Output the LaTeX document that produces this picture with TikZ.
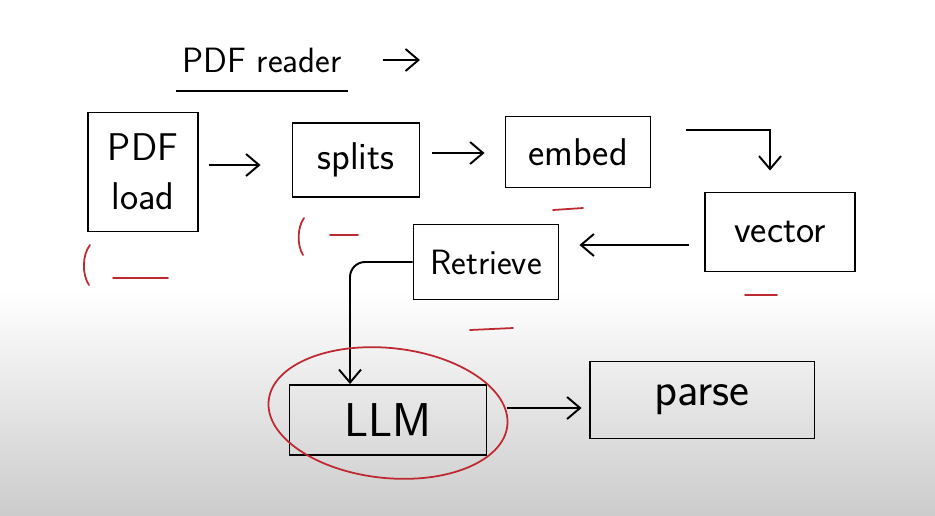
\documentclass[tikz,border=0pt]{standalone}
\usepackage{tikz}
\usetikzlibrary{arrows.meta,positioning}
\definecolor{inkred}{RGB}{190,40,48}

\begin{document}
\begin{tikzpicture}[x=0.02cm, y=-0.02cm, >={Straight Barb[length=2.6mm,width=4.4mm]}]
    \tikzset{block/.style= {draw, rectangle, align=center, line width=1.1pt, inner sep=0.2cm, font=\sffamily\fontsize{22}{28}\selectfont},
    bigblock/.style={block, font=\sffamily\fontsize{27}{30}\selectfont},
    flow/.style={draw, ->, line width=1.1pt},
    redtick/.style={draw=inkred, line width=1pt, line cap=round},
    }
    % background of the board
    \useasboundingbox (0,0) rectangle (935,515);
    \fill[white] (0,0) rectangle (935,290);
    \shade[top color=white, bottom color=gray!40] (0,290) rectangle (935,515);

    \node [font=\sffamily\fontsize{20}{24}\selectfont] (title) at (262,60) {PDF reader};
    \coordinate (titleend) at (420,60);
    \node [block, minimum width=2.2cm, minimum height=2.38cm] (load) at (143,172) {PDF\\load};
    \node [block, minimum width=2.54cm, minimum height=1.48cm] (splits) at (356,160) {splits};
    \node [block, minimum width=2.9cm, minimum height=1.42cm] (embed) at (578,152) {embed};
    \node [block, minimum width=3cm, minimum height=1.58cm] (vector) at (780,232) {vector};
    \node [block, font=\sffamily\fontsize{20}{24}\selectfont, minimum width=2.9cm, minimum height=1.5cm] (retrieve) at (486,262) {Retrieve};
    \node [bigblock, minimum width=3.94cm, minimum height=1.4cm] (llm) at (388,420) {LLM};
    \node [bigblock, minimum width=4.5cm, minimum height=1.54cm] (parse) at (702,400) {parse};

% paths
    \draw[line width=1.1pt] ([yshift=-0.25cm]title.south west) -- ([yshift=-0.25cm]title.south east);
    \draw[flow, shorten <=0.7cm] (title.east) -- (titleend);
    \draw[flow, shorten <=0.2cm, shorten >=0.62cm] ([yshift=0.14cm]load.east) -- ([yshift=0.14cm]load.east -| splits.west);
    \draw[flow, shorten <=0.24cm, shorten >=0.4cm] ([yshift=0.14cm]splits.east) -- ([yshift=0.14cm]splits.east -| embed.west);
    \draw[flow, shorten <=0.7cm, shorten >=0.42cm] ([yshift=0.44cm]embed.east) -| ([xshift=-0.2cm]vector.north);
    \draw[flow, shorten <=0.3cm, shorten >=0.4cm] ([yshift=-0.26cm]vector.west) -- ([yshift=-0.26cm]vector.west -| retrieve.east);
    \draw[flow, rounded corners=0.3cm] (retrieve.west) -| ([xshift=-0.76cm]llm.north);
    \draw[flow, shorten <=0.4cm, shorten >=0.14cm] ([yshift=0.24cm]llm.east) -- ([yshift=0.24cm]llm.east -| parse.west);

    % red notes
    \draw[inkred, line width=1pt, rotate around={-6:(388,413)}] (388,413) ellipse [x radius=2.4cm, y radius=1.3cm];
    \draw[redtick] (90,245) .. controls (82,255) and (82,275) .. (89,285);
    \draw[redtick] (113,278) -- (168,278);
    \draw[redtick] (304,218) .. controls (297,228) and (297,245) .. (303,255);
    \draw[redtick] (330,235) -- (358,235);
    \draw[redtick] (553,210) -- (583,208);
    \draw[redtick] (745,295) -- (777,295);
    \draw[redtick] (470,330) -- (513,328);
\end{tikzpicture}
\end{document}
